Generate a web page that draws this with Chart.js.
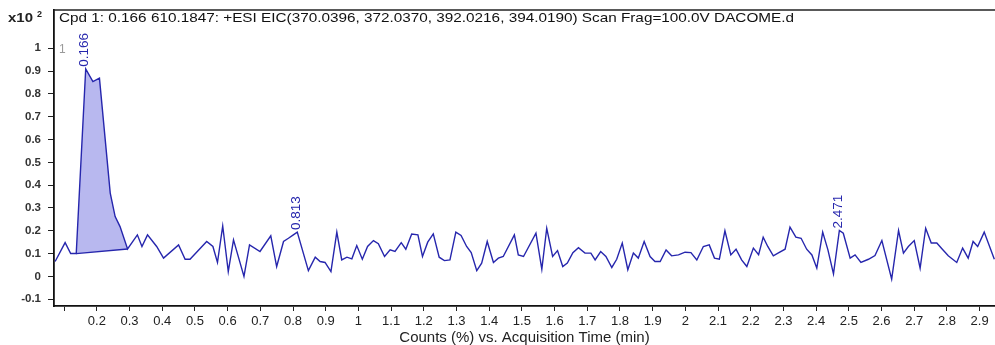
<!DOCTYPE html>
<html>
<head>
<meta charset="utf-8">
<script src="https://cdn.jsdelivr.net/npm/chart.js@4.4.1/dist/chart.umd.min.js"></script>
<style>
  html, body { margin: 0; padding: 0; background: #ffffff; }
  #wrap { width: 995px; height: 345px; position: relative; }
</style>
</head>
<body>
<div id="wrap"><canvas id="c" width="995" height="345"></canvas></div>
<script>
// ---- data ----
const titleText = "Cpd 1: 0.166 610.1847: +ESI EIC(370.0396, 372.0370, 392.0216, 394.0190) Scan Frag=100.0V DACOME.d";
const xAxisTitle = "Counts (%) vs. Acquisition Time (min)";
const yMultiplier = "x10";
const yExponent = "2";

const times = [
  0.0725, 0.103, 0.120, 0.137, 0.166, 0.188, 0.208, 0.241, 0.256, 0.271, 0.294,
  0.324, 0.338, 0.355, 0.383, 0.404, 0.450, 0.470, 0.485, 0.536, 0.555, 0.569,
  0.585, 0.602, 0.618, 0.650, 0.667, 0.699, 0.732, 0.750, 0.771, 0.786, 0.801,
  0.813, 0.847, 0.868, 0.883, 0.898, 0.916, 0.934, 0.949, 0.965, 0.980, 0.995,
  1.012, 1.028, 1.046, 1.061, 1.080, 1.097, 1.112, 1.131, 1.145, 1.163, 1.182,
  1.196, 1.212, 1.229, 1.247, 1.263, 1.280, 1.298, 1.314, 1.331, 1.345, 1.362,
  1.377, 1.394, 1.413, 1.428, 1.443, 1.477, 1.489, 1.505, 1.543, 1.561, 1.576,
  1.594, 1.609, 1.625, 1.639, 1.656, 1.673, 1.693, 1.711, 1.724, 1.741, 1.757,
  1.775, 1.790, 1.807, 1.824, 1.841, 1.856, 1.874, 1.892, 1.907, 1.923, 1.941,
  1.958, 1.979, 1.999, 2.017, 2.035, 2.055, 2.073, 2.089, 2.104, 2.121, 2.139,
  2.155, 2.172, 2.188, 2.208, 2.224, 2.238, 2.252, 2.269, 2.286, 2.305, 2.320,
  2.338, 2.354, 2.371, 2.387, 2.402, 2.420, 2.436, 2.453, 2.471, 2.483, 2.504,
  2.519, 2.537, 2.560, 2.580, 2.601, 2.631, 2.652, 2.667, 2.682, 2.700, 2.718,
  2.735, 2.752, 2.769, 2.786, 2.804, 2.830, 2.848, 2.865, 2.880, 2.894, 2.914,
  2.945
];
const counts = [
  0.065, 0.148, 0.100, 0.100, 0.910, 0.854, 0.869, 0.365, 0.262, 0.218, 0.120,
  0.182, 0.131, 0.182, 0.131, 0.080, 0.138, 0.075, 0.075, 0.153, 0.131, 0.061,
  0.221, 0.021, 0.160, 0.000, 0.138, 0.109, 0.178, 0.043, 0.153, 0.167, 0.182,
  0.194, 0.025, 0.084, 0.065, 0.061, 0.021, 0.194, 0.072, 0.084, 0.077, 0.135,
  0.075, 0.131, 0.157, 0.143, 0.087, 0.116, 0.109, 0.148, 0.119, 0.186, 0.182,
  0.087, 0.150, 0.186, 0.084, 0.069, 0.072, 0.194, 0.179, 0.131, 0.104, 0.025,
  0.058, 0.153, 0.061, 0.080, 0.087, 0.182, 0.094, 0.087, 0.189, 0.031, 0.211,
  0.087, 0.113, 0.043, 0.058, 0.104, 0.126, 0.102, 0.102, 0.072, 0.109, 0.087,
  0.039, 0.075, 0.146, 0.029, 0.102, 0.080, 0.153, 0.087, 0.065, 0.065, 0.116,
  0.090, 0.094, 0.106, 0.104, 0.072, 0.131, 0.138, 0.080, 0.075, 0.200, 0.094,
  0.119, 0.072, 0.043, 0.124, 0.095, 0.172, 0.131, 0.090, 0.104, 0.119, 0.216,
  0.172, 0.167, 0.119, 0.094, 0.036, 0.194, 0.116, 0.011, 0.201, 0.189, 0.080,
  0.094, 0.061, 0.075, 0.091, 0.157, -0.012, 0.201, 0.102, 0.131, 0.157, 0.036,
  0.211, 0.146, 0.146, 0.119, 0.090, 0.061, 0.124, 0.080, 0.153, 0.131, 0.194,
  0.075
];
// integrated peak (start / end retention times) and labelled apexes
const peakStart = 0.137;
const peakEnd = 0.294;
const peakLabels = [0.166, 0.813, 2.471];

const xTicks = [0.1,0.2,0.3,0.4,0.5,0.6,0.7,0.8,0.9,1.0,1.1,1.2,1.3,1.4,1.5,1.6,1.7,1.8,1.9,2.0,2.1,2.2,2.3,2.4,2.5,2.6,2.7,2.8,2.9];
const xTickLabels = ['','0.2','0.3','0.4','0.5','0.6','0.7','0.8','0.9','1','1.1','1.2','1.3','1.4','1.5','1.6','1.7','1.8','1.9','2','2.1','2.2','2.3','2.4','2.5','2.6','2.7','2.8','2.9'];
const yTicks = [-0.1,0,0.1,0.2,0.3,0.4,0.5,0.6,0.7,0.8,0.9,1.0];
const yTickLabels = ['-0.1','0','0.1','0.2','0.3','0.4','0.5','0.6','0.7','0.8','0.9','1'];

// ---- build datasets ----
const linePts = times.map((t, i) => ({x: t, y: counts[i]}));
const peakPts = linePts.filter(p => p.x >= peakStart && p.x <= peakEnd);
const basePts = [peakPts[0], peakPts[peakPts.length - 1]];

const BLUE = '#2626ad';
const FONT = '"Liberation Sans", Arial, sans-serif';

function stretchedText(ctx, text, x, y, font, width) {
  ctx.save();
  ctx.font = font;
  const w = ctx.measureText(text).width;
  ctx.translate(x, y);
  ctx.scale(width / w, 1);
  ctx.fillText(text, 0, 0);
  ctx.restore();
}

const overlay = {
  id: 'overlay',
  afterDraw(chart) {
    const ctx = chart.ctx;
    const xs = chart.scales.x, ys = chart.scales.y;
    const a = chart.chartArea;
    ctx.save();
    // frame top line
    ctx.strokeStyle = '#222';
    ctx.lineWidth = 1.3;
    ctx.beginPath();
    ctx.moveTo(a.left, a.top);
    ctx.lineTo(a.right, a.top);
    ctx.stroke();
    // multiplier
    ctx.fillStyle = '#222';
    ctx.textBaseline = 'alphabetic';
    ctx.textAlign = 'left';
    stretchedText(ctx, yMultiplier, 8, 22, 'bold 12.5px ' + FONT, 25);
    ctx.font = 'bold 9px ' + FONT;
    ctx.fillText(yExponent, 37, 17);
    // title
    ctx.fillStyle = '#111';
    stretchedText(ctx, titleText, a.left + 5, 22, '13.5px ' + FONT, 735);
    // trace number
    ctx.fillStyle = '#9a9a9a';
    ctx.font = '12px ' + FONT;
    ctx.textBaseline = 'middle';
    ctx.fillText('1', a.left + 5, ys.getPixelForValue(1.0) + 1);
    // apex labels
    ctx.fillStyle = BLUE;
    ctx.font = '13.5px ' + FONT;
    peakLabels.forEach(v => {
      const idx = times.indexOf(v);
      const px = xs.getPixelForValue(v);
      const py = ys.getPixelForValue(counts[idx]);
      ctx.save();
      ctx.translate(px - 1, py - 2);
      ctx.rotate(-Math.PI / 2);
      ctx.textAlign = 'left';
      ctx.textBaseline = 'middle';
      ctx.fillText(v.toFixed(3), 0, 0);
      ctx.restore();
    });
    ctx.restore();
  }
};

new Chart(document.getElementById('c'), {
  type: 'line',
  data: {
    datasets: [
      {
        data: linePts,
        borderColor: BLUE,
        borderWidth: 1.4,
        pointRadius: 0,
        tension: 0,
        fill: false,
        order: 1
      },
      {
        data: peakPts,
        borderColor: 'rgba(0,0,0,0)',
        borderWidth: 0,
        backgroundColor: 'rgba(150,150,232,0.68)',
        pointRadius: 0,
        tension: 0,
        fill: 'shape',
        order: 3
      },
      {
        data: basePts,
        borderColor: BLUE,
        borderWidth: 1.3,
        pointRadius: 0,
        tension: 0,
        fill: false,
        order: 2
      }
    ]
  },
  options: {
    responsive: false,
    animation: false,
    layout: { padding: { top: 10, right: 0, left: 0, bottom: 0 } },
    plugins: { legend: { display: false }, tooltip: { enabled: false }, title: { display: false } },
    scales: {
      x: {
        type: 'linear',
        min: 0.069,
        max: 2.947,
        afterBuildTicks(s) { s.ticks = xTicks.map(v => ({value: v})); },
        afterFit(s) { s.height = 39; s.paddingLeft = 0; s.paddingRight = 0; },
        ticks: {
          autoSkip: false,
          maxRotation: 0,
          padding: 3,
          color: '#222',
          font: { family: FONT, size: 13 },
          callback(v, i) { return xTickLabels[i]; }
        },
        grid: { display: true, drawOnChartArea: false, drawTicks: true, tickLength: 5, color: '#222', lineWidth: 1 },
        border: { display: true, color: '#111', width: 1.8 },
        title: {
          display: true,
          text: xAxisTitle,
          color: '#222',
          font: { family: FONT, size: 15, lineHeight: 1 },
          padding: { top: 0, bottom: 0 }
        }
      },
      y: {
        type: 'linear',
        min: -0.13,
        max: 1.168,
        afterBuildTicks(s) { s.ticks = yTicks.map(v => ({value: v})); },
        afterFit(s) { s.width = 54; s.paddingTop = 0; s.paddingBottom = 0; },
        ticks: {
          autoSkip: false,
          padding: 7,
          color: '#333',
          font: { family: FONT, size: 11.5, weight: 'bold' },
          callback(v, i) { return yTickLabels[i]; }
        },
        grid: { display: true, drawOnChartArea: false, drawTicks: true, tickLength: 6, color: '#222', lineWidth: 1 },
        border: { display: true, color: '#111', width: 1.8 }
      }
    }
  },
  plugins: [overlay]
});
</script>
</body>
</html>
